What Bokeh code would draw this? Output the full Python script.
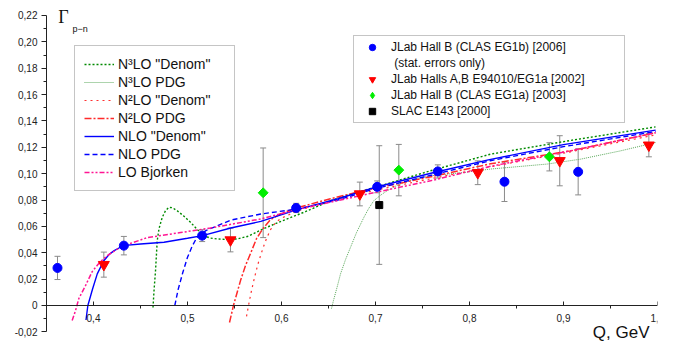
from bokeh.plotting import figure
from bokeh.models import (FixedTicker, CustomJSTickFormatter, Legend, LegendItem,
                          Whisker, TeeHead, ColumnDataSource, Label)
from bokeh.embed import file_html
from bokeh.resources import INLINE

# ---------------- data ----------------
# theory curves
n3lo_denom_x = [0.4633, 0.4644, 0.466, 0.4678, 0.4697, 0.4731, 0.4766, 0.4801, 0.484, 0.489,
                0.4957, 0.5032, 0.5106, 0.5173, 0.5245, 0.5316, 0.5415, 0.5529, 0.5649, 0.5809,
                0.5989, 0.6255, 0.6521, 0.6787, 0.7053, 0.7585, 0.8223, 0.9074, 0.9979]
n3lo_denom_y = [-0.0015, 0.0114, 0.0265, 0.0492, 0.0583, 0.0668, 0.0719, 0.0744, 0.0742, 0.0719,
                0.0681, 0.0631, 0.0575, 0.053, 0.0511, 0.0505, 0.0501, 0.0505, 0.0526, 0.0583,
                0.0636, 0.0712, 0.0795, 0.0855, 0.0908, 0.1022, 0.1148, 0.1252, 0.1355]

n3lo_pdg_x = [0.6532, 0.6553, 0.6596, 0.6628, 0.6681, 0.6734, 0.6798, 0.6876, 0.6926, 0.6982,
              0.7053, 0.7124, 0.7213, 0.7301, 0.7426, 0.7585, 0.7939, 0.8223, 0.8827, 0.9181,
              0.9606, 0.9979]
n3lo_pdg_y = [-0.0023, 0.0038, 0.0151, 0.024, 0.0348, 0.0441, 0.0553, 0.0668, 0.0734, 0.0795,
              0.0836, 0.0871, 0.0905, 0.0933, 0.0961, 0.0984, 0.1009, 0.1035, 0.1073, 0.111,
              0.1173, 0.1236]

n2lo_denom_x = [0.5628, 0.5649, 0.5681, 0.5713, 0.5745, 0.5777, 0.5809, 0.584, 0.5883, 0.5936,
                0.5989, 0.6149, 0.634, 0.6628, 0.6872, 0.7479, 0.8223, 0.9074, 0.9979]
n2lo_denom_y = [-0.0083, 0.0, 0.0114, 0.0212, 0.0303, 0.0379, 0.0447, 0.0507, 0.0575, 0.0628,
                0.0659, 0.0712, 0.0757, 0.081, 0.0855, 0.0946, 0.1052, 0.1166, 0.1294]

n2lo_pdg_x = [0.5447, 0.5489, 0.5564, 0.5617, 0.567, 0.5734, 0.5809, 0.5883, 0.5989, 0.617,
              0.6521, 0.6872, 0.7234, 0.7691, 0.8223, 0.9074, 0.9979]
n2lo_pdg_y = [-0.0129, 0.0, 0.0189, 0.0303, 0.0394, 0.0507, 0.059, 0.0651, 0.0696, 0.0742,
              0.081, 0.0871, 0.0924, 0.0992, 0.1075, 0.1173, 0.131]

nlo_denom_x = [0.392, 0.394, 0.399, 0.404, 0.411, 0.417, 0.422, 0.428, 0.434, 0.45, 0.475,
               0.5, 0.516, 0.546, 0.578, 0.616, 0.66, 0.7, 0.76, 0.82, 0.9, 0.998]
nlo_denom_y = [-0.011, 0.0, 0.0125, 0.024, 0.034, 0.039, 0.0416, 0.044, 0.0456, 0.0467, 0.048,
               0.051, 0.053, 0.0588, 0.0638, 0.0725, 0.081, 0.0897, 0.1005, 0.1105, 0.122, 0.133]

nlo_pdg_x = [0.4865, 0.49, 0.495, 0.5, 0.505, 0.51, 0.52, 0.532, 0.546, 0.578, 0.617, 0.66,
             0.698, 0.76, 0.822, 0.9, 0.998]
nlo_pdg_y = [0.0, 0.012, 0.025, 0.0366, 0.045, 0.0517, 0.057, 0.0605, 0.0648, 0.0694, 0.0732,
             0.08, 0.0883, 0.099, 0.1098, 0.1205, 0.132]

lo_bj_x = [0.3773, 0.3809, 0.3844, 0.3915, 0.3986, 0.4064, 0.4146, 0.4245, 0.4358, 0.4571,
           0.4926, 0.5245, 0.5777, 0.6202, 0.6979, 0.7585, 0.8223, 0.9074, 0.9979]
lo_bj_y = [-0.0114, -0.0038, 0.0053, 0.0151, 0.0257, 0.0326, 0.0378, 0.0424, 0.0462, 0.0515,
           0.0553, 0.0588, 0.0656, 0.0734, 0.0855, 0.0946, 0.1056, 0.1173, 0.131]

# experimental data
eg1b_x = [0.3617, 0.4323, 0.5156, 0.6156, 0.7018, 0.7663, 0.8372, 0.9156]
eg1b_y = [0.0285, 0.0454, 0.053, 0.074, 0.090, 0.1017, 0.0939, 0.1014]
eg1b_err = [0.0088, 0.007, 0.0045, 0.0035, 0.0045, 0.005, 0.015, 0.0175]

e94010_x = [0.411, 0.5457, 0.6833, 0.8088, 0.896, 0.9908]
e94010_y = [0.031, 0.0497, 0.0846, 0.1007, 0.1098, 0.1216]
e94010_err = [0.0095, 0.009, 0.009, 0.009, 0.019, 0.0088]

eg1a_x = [0.5805, 0.7248, 0.885]
eg1a_y = [0.0855, 0.1027, 0.1128]
eg1a_err = [0.034, 0.0195, 0.0107]

slac_x = [0.704]
slac_y = [0.0762]
slac_err = [0.045]

x_ticks = [0.4, 0.5, 0.6, 0.7, 0.8, 0.9, 1.0]
x_minor = [0.45, 0.55, 0.65, 0.75, 0.85, 0.95]
y_ticks = [-0.02, 0.0, 0.02, 0.04, 0.06, 0.08, 0.10, 0.12, 0.14, 0.16, 0.18, 0.20, 0.22]
y_minor = [-0.01, 0.01, 0.03, 0.05, 0.07, 0.09, 0.11, 0.13, 0.15, 0.17, 0.19, 0.21]

NAN = float("nan")

# ---------------- figure ----------------
p = figure(width=681, height=343, x_range=(0.35, 1.0), y_range=(-0.02883, 0.22758),
           output_backend="svg", toolbar_location=None,
           min_border_left=46, min_border_right=24, min_border_top=5, min_border_bottom=0)
p.outline_line_color = None
p.xgrid.visible = False
p.ygrid.visible = False
p.background_fill_color = "white"

FONT = "Liberation Sans"
AX = "#222222"

xa = p.xaxis[0]
xa.fixed_location = 0
xa.bounds = (0.35, 1.0)
xa.ticker = FixedTicker(ticks=x_ticks, minor_ticks=x_minor)
xa.formatter = CustomJSTickFormatter(code="return tick.toFixed(1).replace('.', ',');")
xa.major_tick_in = 4
xa.major_tick_out = 0
xa.minor_tick_in = 0
xa.minor_tick_out = 3
xa.major_label_standoff = 6
xa.major_label_text_font = FONT
xa.major_label_text_font_size = "10px"
xa.major_label_text_color = AX
xa.axis_line_color = AX
xa.major_tick_line_color = AX
xa.minor_tick_line_color = AX

ya = p.yaxis[0]
ya.bounds = (-0.02, 0.22)
ya.ticker = FixedTicker(ticks=y_ticks, minor_ticks=y_minor)
ya.formatter = CustomJSTickFormatter(
    code="return Math.abs(tick) < 1e-9 ? '0' : tick.toFixed(2).replace('.', ',');")
ya.major_tick_in = 0
ya.major_tick_out = 5
ya.minor_tick_in = 0
ya.minor_tick_out = 3
ya.major_label_standoff = 4
ya.major_label_text_font = FONT
ya.major_label_text_font_size = "10px"
ya.major_label_text_color = AX
ya.axis_line_color = AX
ya.major_tick_line_color = AX
ya.minor_tick_line_color = AX

# ---- error bars ----
def add_err(xs, ys, es):
    src = ColumnDataSource(dict(x=xs, lo=[y - e for y, e in zip(ys, es)],
                                hi=[y + e for y, e in zip(ys, es)]))
    w = Whisker(base="x", lower="lo", upper="hi", source=src, dimension="height",
                line_color="#8a8a8a", line_width=1,
                upper_head=TeeHead(size=6, line_color="#8a8a8a", line_width=1),
                lower_head=TeeHead(size=6, line_color="#8a8a8a", line_width=1))
    p.add_layout(w)

add_err(eg1b_x, eg1b_y, eg1b_err)
add_err(e94010_x, e94010_y, e94010_err)
add_err(eg1a_x, eg1a_y, eg1a_err)
add_err(slac_x, slac_y, slac_err)

# ---- theory curves ----
r_n3d = p.line(n3lo_denom_x, n3lo_denom_y, line_color="#008a00", line_width=1.4, line_dash="2 2")
r_n3p = p.line(n3lo_pdg_x, n3lo_pdg_y, line_color="#5aa85a", line_width=1, line_dash="1 1")
r_n2d = p.line(n2lo_denom_x, n2lo_denom_y, line_color="#ff3030", line_width=1.2, line_dash="2 4")
r_n2p = p.line(n2lo_pdg_x, n2lo_pdg_y, line_color="#ff2a2a", line_width=1.5, line_dash="7 2 2 2")
r_nld = p.line(nlo_denom_x, nlo_denom_y, line_color="#0000ff", line_width=1.4)
r_nlp = p.line(nlo_pdg_x, nlo_pdg_y, line_color="#0000ff", line_width=1.4, line_dash="5 3")
r_lo = p.line(lo_bj_x, lo_bj_y, line_color="#ff1493", line_width=1.5, line_dash="5 2 2 2 2 2")

# ---- data markers ----
r_b = p.scatter(eg1b_x, eg1b_y, marker="circle", size=9, color="#0000ff")
r_r = p.scatter(e94010_x, e94010_y, marker="inverted_triangle", size=11, color="#ff0000")
r_g = p.scatter(eg1a_x, eg1a_y, marker="square", angle=0.785398, size=7, color="#00ee00")
r_k = p.scatter(slac_x, slac_y, marker="square", size=7, color="#000000")
# legend-only glyphs (not plotted: NaN position)
r_blank = p.scatter(x=[NAN], y=[NAN], marker="circle", size=1, fill_alpha=0, line_alpha=0)
r_g_leg = p.scatter(x=[NAN], y=[NAN], marker="diamond", size=9, color="#00ee00")

# ---- legends ----
leg1 = Legend(items=[
    LegendItem(label='N\u00b3LO "Denom"', renderers=[r_n3d]),
    LegendItem(label='N\u00b3LO PDG', renderers=[r_n3p]),
    LegendItem(label='N\u00b2LO "Denom"', renderers=[r_n2d]),
    LegendItem(label='N\u00b2LO PDG', renderers=[r_n2p]),
    LegendItem(label='NLO "Denom"', renderers=[r_nld]),
    LegendItem(label='NLO PDG', renderers=[r_nlp]),
    LegendItem(label='LO Bjorken', renderers=[r_lo]),
], location=(28, 152), padding=9, spacing=0, glyph_width=30, glyph_height=18,
    label_height=18, label_width=107, label_standoff=4, margin=0,
    label_text_font=FONT, label_text_font_size="14px", label_text_color="#111111",
    border_line_color="#8c8c8c", border_line_width=1, background_fill_alpha=1.0)
p.add_layout(leg1)

leg2 = Legend(items=[
    LegendItem(label='JLab Hall B (CLAS EG1b) [2006]', renderers=[r_b]),
    LegendItem(label='\u00a0(stat. errors only)', renderers=[r_blank]),
    LegendItem(label='JLab Halls A,B E94010/EG1a [2002]', renderers=[r_r]),
    LegendItem(label='JLab Hall B (CLAS EG1a) [2003]', renderers=[r_g_leg]),
    LegendItem(label='SLAC E143 [2000]', renderers=[r_k]),
], location=(307, 220), padding=3, spacing=0, glyph_width=30, glyph_height=16,
    label_height=16, label_width=230, label_standoff=4, margin=0,
    label_text_font=FONT, label_text_font_size="12px", label_text_color="#111111",
    border_line_color="#8c8c8c", border_line_width=1, background_fill_alpha=1.0)
p.add_layout(leg2)

# ---- labels ----
p.add_layout(Label(x=0.3681, y=0.2192, text="\u0393", text_font="Liberation Serif",
                   text_font_size="18px", text_align="center", text_baseline="middle",
                   text_color="#111111"))
p.add_layout(Label(x=0.3777, y=0.2094, text="p\u2212n", text_font=FONT,
                   text_font_size="9px", text_align="left", text_baseline="middle",
                   text_color="#111111"))
p.add_layout(Label(x=0.9915, y=-0.0205, text="Q, GeV", text_font=FONT,
                   text_font_size="17px", text_align="right", text_baseline="alphabetic",
                   text_color="#111111"))

open("out.html", "w").write(file_html(p, INLINE))
